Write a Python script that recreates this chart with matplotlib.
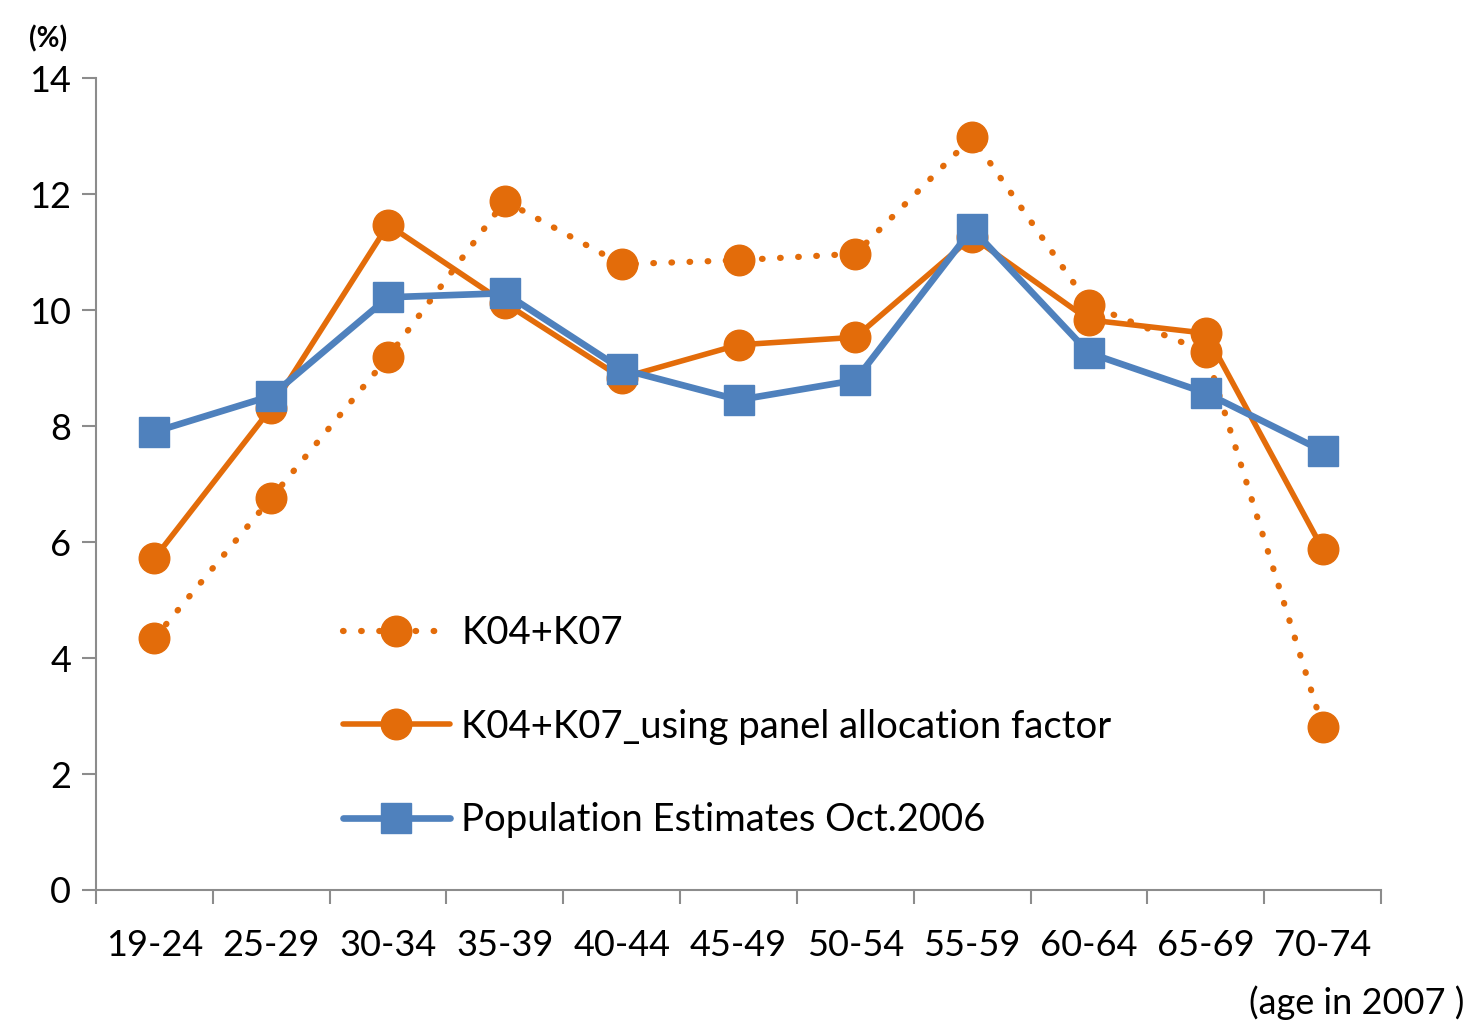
import matplotlib.pyplot as plt
import numpy as np

# age groups and share of each group (%)
age_groups = ["19-24", "25-29", "30-34", "35-39", "40-44", "45-49",
              "50-54", "55-59", "60-64", "65-69", "70-74"]
k04_k07 = [4.34, 6.76, 9.19, 11.88, 10.79, 10.86, 10.97, 12.98, 10.09, 9.28, 2.81]
k04_k07_panel = [5.72, 8.31, 11.47, 10.12, 8.83, 9.40, 9.53, 11.26, 9.83, 9.60, 5.88]
pop_est_2006 = [7.90, 8.52, 10.22, 10.29, 8.98, 8.45, 8.79, 11.40, 9.26, 8.57, 7.57]

orange = "#E36C0A"
blue = "#4F81BD"
axis_gray = "#8C8C8C"

plt.rcParams['font.family'] = ['Lato', 'DejaVu Sans']

fig = plt.figure(figsize=(14.75, 10.27), dpi=100)
ax = fig.add_axes([0.0651, 0.1334, 0.8712, 0.7906])

x = np.arange(len(age_groups))

ax.plot(x, k04_k07, color=orange, lw=4.5, linestyle=(0, (0.1, 2.8)),
        dash_capstyle='round', marker='o', markersize=22,
        label="K04+K07", zorder=3)
ax.plot(x, k04_k07_panel, color=orange, lw=4.0, marker='o', markersize=22,
        solid_capstyle='round', label="K04+K07_using panel allocation factor", zorder=4)
ax.plot(x, pop_est_2006, color=blue, lw=4.8, marker='s', markersize=21,
        solid_capstyle='round', label="Population Estimates Oct.2006", zorder=5)

ax.set_xlim(-0.5, len(age_groups) - 0.5)
ax.set_ylim(0, 14)
ax.set_yticks(np.arange(0, 15, 2))

# category ticks sit on the group boundaries, labels in the middle
ax.set_xticks(np.arange(-0.5, len(age_groups), 1.0))
ax.set_xticklabels([])
ax.set_xticks(x, minor=True)
ax.set_xticklabels(age_groups, minor=True)
ax.tick_params(axis='x', which='minor', length=0, pad=28, labelsize=26)
ax.tick_params(axis='x', which='major', length=10, width=1.5, color=axis_gray, direction='out')
ax.tick_params(axis='y', length=10, width=1.5, color=axis_gray, direction='out',
               labelsize=26, pad=8)

for side in ['top', 'right']:
    ax.spines[side].set_visible(False)
for side in ['left', 'bottom']:
    ax.spines[side].set_color(axis_gray)
    ax.spines[side].set_linewidth(1.5)

leg = ax.legend(loc='upper left', bbox_to_anchor=(0.18, 0.357), frameon=False,
                fontsize=27.5, handlelength=2.8, handletextpad=0.3,
                labelspacing=1.5, borderaxespad=0)

fig.text(0.020, 0.962, "(%)", fontsize=20, fontweight='bold', ha='left', va='center')
fig.text(0.993, 0.024, "(age in 2007 )", fontsize=26, ha='right', va='center')

fig.savefig("out.png", dpi=100)
